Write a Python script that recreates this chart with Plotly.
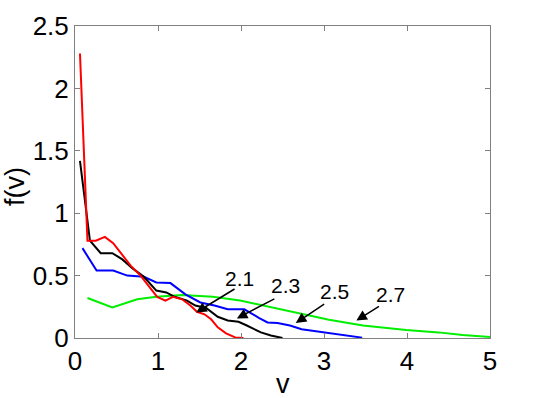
import plotly.graph_objects as go

# velocity distribution curves for four exponents
v_21 = [0.06, 0.15, 0.25, 0.36, 0.46, 0.57, 0.67, 0.79, 0.92, 0.99, 1.09, 1.18, 1.29, 1.39,
        1.47, 1.56, 1.64, 1.72, 1.82, 1.93, 2.03]
f_21 = [2.28, 0.78, 0.78, 0.81, 0.76, 0.67, 0.58, 0.50, 0.39, 0.33, 0.30, 0.33, 0.31, 0.26,
        0.21, 0.19, 0.15, 0.085, 0.037, 0.005, 0.0]

v_23 = [0.06, 0.18, 0.31, 0.45, 0.57, 0.69, 0.83, 0.98, 1.10, 1.20, 1.35, 1.45, 1.58, 1.72,
        1.84, 1.97, 2.07, 2.24, 2.36, 2.50]
f_23 = [1.42, 0.78, 0.68, 0.68, 0.63, 0.56, 0.49, 0.38, 0.365, 0.33, 0.30, 0.26, 0.24, 0.17,
        0.14, 0.13, 0.10, 0.045, 0.02, 0.0]

v_25 = [0.09, 0.26, 0.46, 0.63, 0.83, 0.98, 1.15, 1.33, 1.51, 1.68, 1.84, 2.04, 2.22, 2.32,
        2.44, 2.59, 2.73, 2.94, 3.12, 3.31, 3.46]
f_25 = [0.72, 0.54, 0.54, 0.50, 0.49, 0.445, 0.44, 0.35, 0.285, 0.26, 0.23, 0.23, 0.16, 0.125,
        0.12, 0.10, 0.07, 0.05, 0.03, 0.013, 0.003]

v_27 = [0.15, 0.45, 0.75, 0.98, 1.29, 1.66, 1.99, 2.36, 2.69, 3.06, 3.47, 3.99, 4.38, 4.67, 5.0]
f_27 = [0.32, 0.245, 0.31, 0.33, 0.345, 0.33, 0.30, 0.245, 0.20, 0.147, 0.10, 0.064, 0.045,
        0.024, 0.008]

# labels: text position, arrow tail, arrow head
labels = ["2.1", "2.3", "2.5", "2.7"]
text_x = [1.98, 2.54, 3.13, 3.80]
text_y = [0.48, 0.42, 0.37, 0.35]
tail_x = [1.94, 2.42, 3.02, 3.68]
tail_y = [0.40, 0.32, 0.28, 0.26]
head_x = [1.46, 1.95, 2.66, 3.39]
head_y = [0.205, 0.157, 0.12, 0.14]

font = "Liberation Sans, Arial, sans-serif"

fig = go.Figure()
for xs, ys, col in [(v_27, f_27, "#00ee00"), (v_25, f_25, "#0000ff"),
                    (v_23, f_23, "#000000"), (v_21, f_21, "#ff0000")]:
    fig.add_trace(go.Scatter(x=xs, y=ys, mode="lines",
                             line=dict(color=col, width=2), showlegend=False))

for i in range(len(labels)):
    fig.add_annotation(x=head_x[i], y=head_y[i], ax=tail_x[i], ay=tail_y[i],
                       xref="x", yref="y", axref="x", ayref="y", text="",
                       showarrow=True, arrowhead=2, arrowsize=1.4, arrowwidth=1.5,
                       arrowcolor="black")
    fig.add_annotation(x=text_x[i], y=text_y[i], text=labels[i], showarrow=False,
                       font=dict(size=21, color="black", family=font))

# axis titles as annotations so they sit where the reference has them
fig.add_annotation(x=0.5, y=0, xref="paper", yref="paper", yanchor="top", yshift=-29,
                   text="v", showarrow=False,
                   font=dict(size=27, color="black", family=font))
fig.add_annotation(x=0, y=0.5, xref="paper", yref="paper", xanchor="center", xshift=-60,
                   yshift=-5, textangle=-90, text="f(v)", showarrow=False,
                   font=dict(size=27, color="black", family=font))

axis_style = dict(showline=True, linecolor="#808080", linewidth=1, mirror="ticks",
                  ticks="inside", ticklen=5, tickcolor="#808080", showgrid=False,
                  zeroline=False, automargin=False,
                  tickfont=dict(size=26, color="black", family=font))

fig.update_xaxes(range=[0, 5], tickvals=[0, 1, 2, 3, 4, 5], **axis_style)
fig.update_yaxes(range=[0, 2.5], tickvals=[0, 0.5, 1, 1.5, 2, 2.5],
                 ticktext=["0", "0.5", "1", "1.5", "2", "2.5"], **axis_style)

fig.update_layout(width=538, height=398, plot_bgcolor="white", paper_bgcolor="white",
                  margin=dict(l=75, r=48, t=26, b=60))

# drop the page's default body margin so the figure fills the window
fig.write_html("out.html", config={"displayModeBar": False},
               post_script="document.body.style.margin='0';")
